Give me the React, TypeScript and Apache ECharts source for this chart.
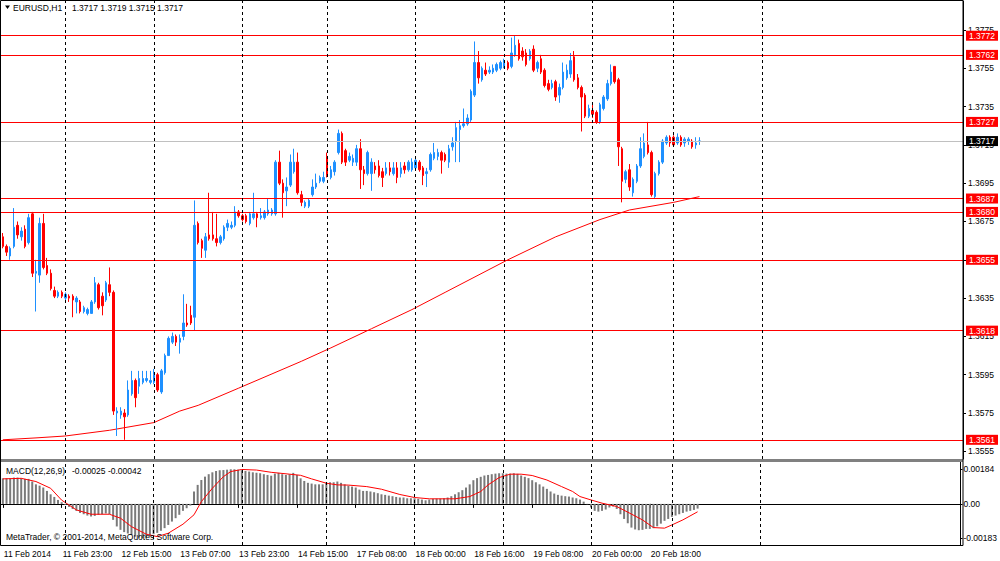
import React, { useEffect, useRef } from 'react';
import * as echarts from 'echarts';

const FONT = '"Liberation Sans", Arial, sans-serif';

// trading sessions (day label, first hour, last hour, missing hours, draw separator at start)
const sessions: [string, number, number, number[], boolean][] = [
  ['11 Feb', 7, 23, [], false],
  ['12 Feb', 0, 23, [], true],
  ['13 Feb', 0, 23, [], true],
  ['14 Feb', 0, 22, [], true],
  ['17 Feb', 0, 23, [], true],
  ['18 Feb', 0, 23, [], true],
  ['19 Feb', 0, 23, [], true],
  ['20 Feb', 0, 23, [16, 17], true],
  ['21 Feb', 0, 23, [], true],
  ['24 Feb', 0, 23, [], true],
  ['25 Feb', 0, 23, [], false],
  ['26 Feb', 0, 23, [], false],
];
const YEAR = '2014';
const SLOTS = 261;

// [open, close, low, high]
const ohlc: number[][] = [
  [1.3667,1.3662,1.3661,1.3669],[1.3662,1.3659,1.3657,1.3663],[1.3657,1.3661,1.3655,1.3662],[1.3662,1.3672,1.3661,1.3682],[1.3673,1.3668,1.3666,1.3675],
  [1.3667,1.3670,1.3665,1.3672],[1.3671,1.3662,1.3661,1.3673],[1.3664,1.3677,1.3663,1.3679],[1.3679,1.3648,1.3646,1.3680],[1.3648,1.3649,1.3628,1.3655],
  [1.3647,1.3674,1.3643,1.3677],[1.3674,1.3651,1.3650,1.3679],[1.3652,1.3648,1.3647,1.3656],[1.3648,1.3640,1.3639,1.3650],[1.3639,1.3636,1.3635,1.3641],
  [1.3636,1.3638,1.3635,1.3639],[1.3638,1.3636,1.3635,1.3639],[1.3635,1.3637,1.3634,1.3638],[1.3636,1.3635,1.3633,1.3637],[1.3636,1.3634,1.3625,1.3637],
  [1.3633,1.3635,1.3627,1.3636],[1.3633,1.3628,1.3627,1.3634],[1.3628,1.3630,1.3627,1.3631],[1.3627,1.3629,1.3626,1.3630],[1.3627,1.3633,1.3627,1.3634],
  [1.3633,1.3643,1.3632,1.3646],[1.3642,1.3630,1.3629,1.3643],[1.3636,1.3631,1.3626,1.3638],[1.3634,1.3643,1.3633,1.3644],[1.3642,1.3638,1.3636,1.3651],
  [1.3638,1.3576,1.3574,1.3639],[1.3575,1.3576,1.3563,1.3578],[1.3574,1.3576,1.3572,1.3578],[1.3575,1.3573,1.3561,1.3577],[1.3574,1.3587,1.3573,1.3592],
  [1.3585,1.3592,1.3584,1.3597],[1.3592,1.3583,1.3578,1.3593],[1.3589,1.3593,1.3585,1.3597],[1.3591,1.3593,1.3590,1.3597],[1.3592,1.3593,1.3591,1.3597],
  [1.3591,1.3592,1.3590,1.3597],[1.3591,1.3595,1.3590,1.3598],[1.3595,1.3587,1.3586,1.3596],[1.3586,1.3597,1.3585,1.3598],[1.3596,1.3605,1.3595,1.3606],
  [1.3605,1.3614,1.3605,1.3615],[1.3612,1.3615,1.3611,1.3617],[1.3615,1.3612,1.3610,1.3616],[1.3612,1.3614,1.3606,1.3616],[1.3615,1.3622,1.3613,1.3637],
  [1.3622,1.3621,1.3620,1.3632],[1.3626,1.3622,1.3621,1.3631],[1.3625,1.3673,1.3618,1.3686],[1.3674,1.3664,1.3663,1.3675],[1.3665,1.3661,1.3656,1.3666],
  [1.3660,1.3667,1.3656,1.3669],[1.3668,1.3666,1.3665,1.3690],[1.3668,1.3666,1.3665,1.3680],[1.3666,1.3664,1.3662,1.3679],[1.3664,1.3667,1.3663,1.3668],
  [1.3666,1.3672,1.3665,1.3673],[1.3672,1.3674,1.3670,1.3676],[1.3672,1.3673,1.3671,1.3675],[1.3673,1.3680,1.3672,1.3683],[1.3680,1.3678,1.3677,1.3681],
  [1.3678,1.3676,1.3675,1.3679],[1.3678,1.3675,1.3674,1.3679],[1.3674,1.3679,1.3673,1.3680],[1.3677,1.3679,1.3676,1.3690],[1.3679,1.3677,1.3672,1.3680],
  [1.3677,1.3678,1.3676,1.3682],[1.3677,1.3680,1.3676,1.3681],[1.3679,1.3681,1.3678,1.3687],[1.3679,1.3681,1.3678,1.3682],[1.3679,1.3706,1.3678,1.3707],
  [1.3706,1.3695,1.3694,1.3712],[1.3695,1.3690,1.3677,1.3697],[1.3691,1.3693,1.3683,1.3698],[1.3694,1.3706,1.3693,1.3710],[1.3701,1.3706,1.3700,1.3713],
  [1.3706,1.3690,1.3689,1.3711],[1.3689,1.3685,1.3683,1.3691],[1.3683,1.3685,1.3682,1.3686],[1.3683,1.3686,1.3682,1.3687],[1.3689,1.3693,1.3688,1.3697],
  [1.3693,1.3695,1.3692,1.3700],[1.3696,1.3698,1.3695,1.3699],[1.3696,1.3698,1.3695,1.3701],[1.3709,1.3699,1.3698,1.3711],[1.3698,1.3702,1.3697,1.3704],
  [1.3701,1.3706,1.3699,1.3707],[1.3711,1.3721,1.3710,1.3723],[1.3721,1.3706,1.3705,1.3722],[1.3712,1.3706,1.3704,1.3713],[1.3707,1.3709,1.3706,1.3711],
  [1.3706,1.3708,1.3704,1.3710],[1.3706,1.3713,1.3704,1.3715],[1.3713,1.3702,1.3692,1.3718],[1.3702,1.3700,1.3694,1.3704],[1.3700,1.3711,1.3699,1.3712],
  [1.3700,1.3706,1.3691,1.3708],[1.3704,1.3702,1.3700,1.3706],[1.3704,1.3699,1.3698,1.3707],[1.3701,1.3698,1.3693,1.3703],[1.3700,1.3703,1.3699,1.3706],
  [1.3703,1.3701,1.3699,1.3706],[1.3700,1.3703,1.3699,1.3706],[1.3703,1.3698,1.3695,1.3706],[1.3700,1.3703,1.3698,1.3706],[1.3704,1.3702,1.3700,1.3706],
  [1.3702,1.3706,1.3701,1.3707],[1.3702,1.3706,1.3701,1.3708],[1.3703,1.3707,1.3702,1.3709],[1.3706,1.3702,1.3701,1.3707],[1.3703,1.3699,1.3694,1.3704],
  [1.3700,1.3701,1.3693,1.3703],[1.3702,1.3710,1.3701,1.3711],[1.3708,1.3711,1.3707,1.3716],[1.3709,1.3711,1.3707,1.3713],[1.3711,1.3707,1.3700,1.3712],
  [1.3710,1.3707,1.3706,1.3711],[1.3706,1.3713,1.3703,1.3715],[1.3714,1.3716,1.3712,1.3719],[1.3717,1.3724,1.3706,1.3727],[1.3723,1.3725,1.3706,1.3728],
  [1.3725,1.3726,1.3724,1.3734],[1.3726,1.3729,1.3725,1.3731],[1.3728,1.3743,1.3727,1.3744],[1.3741,1.3758,1.3740,1.3769],[1.3758,1.3750,1.3747,1.3764],
  [1.3749,1.3755,1.3748,1.3756],[1.3754,1.3752,1.3751,1.3758],[1.3753,1.3754,1.3752,1.3756],[1.3753,1.3755,1.3752,1.3757],[1.3754,1.3757,1.3753,1.3758],
  [1.3755,1.3758,1.3754,1.3759],[1.3756,1.3758,1.3755,1.3760],[1.3758,1.3755,1.3754,1.3759],[1.3756,1.3763,1.3755,1.3771],[1.3762,1.3767,1.3761,1.3772],
  [1.3768,1.3760,1.3759,1.3770],[1.3764,1.3761,1.3759,1.3766],[1.3763,1.3757,1.3756,1.3765],[1.3760,1.3764,1.3759,1.3765],[1.3765,1.3754,1.3753,1.3767],
  [1.3755,1.3758,1.3753,1.3759],[1.3760,1.3753,1.3752,1.3762],[1.3754,1.3746,1.3745,1.3755],[1.3747,1.3744,1.3743,1.3749],[1.3745,1.3747,1.3744,1.3749],
  [1.3748,1.3740,1.3738,1.3749],[1.3741,1.3745,1.3737,1.3747],[1.3745,1.3753,1.3744,1.3758],[1.3750,1.3754,1.3749,1.3757],[1.3752,1.3759,1.3750,1.3763],
  [1.3761,1.3749,1.3748,1.3764],[1.3750,1.3745,1.3744,1.3752],[1.3745,1.3740,1.3722,1.3746],[1.3741,1.3730,1.3729,1.3742],[1.3730,1.3734,1.3729,1.3736],
  [1.3733,1.3731,1.3729,1.3736],[1.3732,1.3727,1.3726,1.3733],[1.3727,1.3736,1.3726,1.3737],[1.3734,1.3740,1.3733,1.3741],[1.3739,1.3747,1.3738,1.3749],
  [1.3747,1.3753,1.3746,1.3757],[1.3756,1.3748,1.3747,1.3756],[1.3749,1.3714,1.3704,1.3750],[1.3713,1.3696,1.3685,1.3714],[1.3697,1.3701,1.3695,1.3702],
  [1.3702,1.3693,1.3691,1.3705],[1.3690,1.3697,1.3688,1.3698],[1.3696,1.3704,1.3695,1.3705],[1.3704,1.3713,1.3703,1.3719],[1.3709,1.3716,1.3708,1.3721],
  [1.3715,1.3711,1.3710,1.3727],[1.3711,1.3689,1.3688,1.3712],[1.3688,1.3700,1.3687,1.3701],[1.3700,1.3706,1.3699,1.3707],[1.3706,1.3717,1.3705,1.3718],
  [1.3716,1.3719,1.3715,1.3720],[1.3719,1.3716,1.3714,1.3720],[1.3719,1.3715,1.3714,1.3720],[1.3716,1.3719,1.3715,1.3721],[1.3719,1.3715,1.3714,1.3720],
  [1.3716,1.3718,1.3714,1.3719],[1.3717,1.3718,1.3715,1.3719],[1.3717,1.3714,1.3713,1.3718],[1.3715,1.3716,1.3713,1.3719],[1.3717,1.3717,1.3715,1.3719],
];

// moving average read at sampled bars [bar index, price]
const maPoints: [number, number][] = [
  [0, 1.3561], [9, 1.3562], [17, 1.3563], [29, 1.3566], [41, 1.3570], [48, 1.3576], [53, 1.3579],
  [64, 1.3588], [81, 1.3602], [89, 1.3609], [100, 1.3619], [111, 1.3629], [120, 1.3638], [130, 1.3648],
  [137, 1.3655], [150, 1.3667], [162, 1.3676], [170, 1.3681], [182, 1.3685], [189, 1.3688],
];

// MACD main (histogram), one per bar
const macdHist: number[] = [
  0.00136,0.00136,0.00136,0.00140,0.00140,0.00136,0.00133,0.00133,0.00119,0.00104,
  0.00097,0.00087,0.00069,0.00051,0.00037,0.00021,0.00009,-0.00005,-0.00016,-0.00027,
  -0.00037,-0.00048,-0.00055,-0.00062,-0.00067,-0.00064,-0.00058,-0.00055,-0.00051,-0.00055,
  -0.00085,-0.00120,-0.00138,-0.00150,-0.00158,-0.00165,-0.00174,-0.00179,-0.00183,-0.00179,
  -0.00172,-0.00161,-0.00154,-0.00143,-0.00129,-0.00112,-0.00094,-0.00076,-0.00058,-0.00037,
  -0.00023,-0.00009,0.00066,0.00101,0.00127,0.00145,0.00158,0.00168,0.00175,0.00179,
  0.00180,0.00182,0.00184,0.00184,0.00182,0.00179,0.00175,0.00172,0.00168,0.00165,
  0.00163,0.00158,0.00154,0.00150,0.00161,0.00165,0.00158,0.00154,0.00158,0.00165,
  0.00154,0.00136,0.00122,0.00112,0.00108,0.00104,0.00104,0.00104,0.00112,0.00115,
  0.00115,0.00119,0.00112,0.00104,0.00097,0.00092,0.00087,0.00076,0.00069,0.00069,
  0.00066,0.00062,0.00057,0.00051,0.00048,0.00044,0.00041,0.00037,0.00034,0.00034,
  0.00030,0.00030,0.00030,0.00027,0.00023,0.00019,0.00023,0.00027,0.00028,0.00028,
  0.00030,0.00034,0.00041,0.00051,0.00062,0.00073,0.00087,0.00104,0.00126,0.00137,
  0.00144,0.00151,0.00154,0.00158,0.00161,0.00163,0.00163,0.00161,0.00161,0.00163,
  0.00160,0.00151,0.00144,0.00137,0.00126,0.00115,0.00104,0.00092,0.00080,0.00066,
  0.00055,0.00048,0.00044,0.00041,0.00039,0.00034,0.00030,0.00023,0.00012,-0.00002,
  -0.00019,-0.00037,-0.00041,-0.00037,-0.00030,-0.00019,-0.00014,-0.00027,-0.00055,-0.00080,
  -0.00103,-0.00126,-0.00136,-0.00140,-0.00138,-0.00133,-0.00133,-0.00129,-0.00119,-0.00105,
  -0.00090,-0.00080,-0.00069,-0.00062,-0.00055,-0.00048,-0.00041,-0.00037,-0.00032,-0.00025,
];

// MACD signal read at sampled bars [bar index, value]
const signalPoints: [number, number][] = [
  [0, 0.00133], [5, 0.00136], [9, 0.00119], [13, 0.00083], [16, 0.00020], [20, -0.00032], [24, -0.00055],
  [29, -0.00055], [32, -0.00076], [35, -0.00121], [39, -0.00161], [42, -0.00174], [45, -0.00156],
  [49, -0.00108], [52, -0.00058], [54, 0.00012], [57, 0.00083], [60, 0.00145], [62, 0.00172],
  [65, 0.00183], [69, 0.00180], [73, 0.00168], [78, 0.00158], [81, 0.00152], [84, 0.00133],
  [88, 0.00110], [91, 0.00101], [94, 0.00100], [99, 0.00092], [103, 0.00078], [108, 0.00050],
  [112, 0.00034], [116, 0.00027], [123, 0.00027], [127, 0.00039], [130, 0.00066], [132, 0.00101],
  [135, 0.00140], [138, 0.00158], [141, 0.00158], [144, 0.00151], [148, 0.00127], [152, 0.00092],
  [155, 0.00066], [157, 0.00039], [160, 0.00021], [163, 0.00004], [167, -0.00014], [170, -0.00044],
  [174, -0.00085], [177, -0.00126], [180, -0.00129], [182, -0.00112], [185, -0.00085], [189, -0.00042],
];

const levels: number[] = [1.3772, 1.3762, 1.3727, 1.3687, 1.3680, 1.3655, 1.3618, 1.3561];
const bidPrice = 1.3717;
const priceTicks: number[] = [1.3555, 1.3575, 1.3595, 1.3615, 1.3635, 1.3655, 1.3675, 1.3695, 1.3715, 1.3735, 1.3755, 1.3775];
const macdTicks: number[] = [-0.00183, 0, 0.00184];

function pad(h: number) {
  return (h < 10 ? '0' : '') + h + ':00';
}

function buildCategories() {
  const cats: string[] = [];
  const seps: number[] = [];
  sessions.forEach(([day, first, last, skip, sep]) => {
    if (sep) seps.push(cats.length);
    for (let h = first; h <= last; h++) {
      if (skip.indexOf(h) >= 0) continue;
      cats.push(day + ' ' + pad(h));
    }
  });
  return { cats: cats.slice(0, SLOTS), seps: seps.filter((s) => s < SLOTS) };
}

export default function App() {
  const ref = useRef<HTMLDivElement>(null);

  useEffect(() => {
    if (!ref.current) return;
    const chart = echarts.init(ref.current, null, { renderer: 'svg' });
    const { cats, seps } = buildCategories();
    const n = ohlc.length;
    const labelEvery = (idx: number) => idx % 16 === 0 && idx < n;
    const last = ohlc[n - 1];
    const headerValues = [last[0], last[3], last[2], last[1]].map((v) => v.toFixed(4)).join(' ');
    const macdValues =
      macdHist[n - 1].toFixed(5) + ' ' + signalPoints[signalPoints.length - 1][1].toFixed(5);
    const sepLines = seps.map((i) => ({ xAxis: i }));
    const sepStyle = { color: '#000', type: [3, 3], width: 1 };
    const tagLabel = (bg: string) => ({
      show: true,
      position: 'end',
      distance: 3,
      formatter: (p: any) => Number(p.value).toFixed(4),
      color: '#fff',
      backgroundColor: bg,
      padding: [1, 3, 0, 3],
      fontSize: 8.5,
      fontFamily: FONT,
    });

    const option: any = {
      animation: false,
      backgroundColor: '#fff',
      textStyle: { fontFamily: FONT },
      grid: [
        { left: 1, right: 37, top: 1, height: 458 },
        { left: 1, right: 37, top: 462, height: 83 },
      ],
      xAxis: [
        {
          type: 'category', gridIndex: 0, data: cats, boundaryGap: true,
          axisLine: { show: false }, axisTick: { show: false }, axisLabel: { show: false }, splitLine: { show: false },
        },
        {
          type: 'category', gridIndex: 1, data: cats, boundaryGap: true,
          axisLine: { show: true, lineStyle: { color: '#000', width: 1 } },
          axisTick: { show: true, interval: labelEvery, alignWithLabel: true, length: 4, lineStyle: { color: '#000' } },
          axisLabel: {
            interval: labelEvery,
            formatter: (v: string, idx: number) => (idx === 0 ? v.split(' ').slice(0, 2).join(' ') + ' ' + YEAR : v),
            align: 'left', color: '#000', fontSize: 8.5, fontFamily: FONT, margin: 4, padding: [0, 0, 0, 1],
          },
          splitLine: { show: false },
        },
      ],
      yAxis: [
        {
          type: 'value', gridIndex: 0, position: 'right', min: 1.355098, max: 1.379014, scale: true,
          splitLine: { show: false },
          axisLine: { show: true, lineStyle: { color: '#000', width: 1 } },
          axisTick: { show: true, length: 3, customValues: priceTicks, lineStyle: { color: '#000' } },
          axisLabel: {
            customValues: priceTicks, formatter: (v: number) => v.toFixed(4),
            color: '#000', fontSize: 8.5, fontFamily: FONT, margin: 5,
          },
        },
        {
          type: 'value', gridIndex: 1, position: 'right', min: -0.002186, max: 0.002228,
          splitLine: { show: false },
          axisLine: { show: true, lineStyle: { color: '#000', width: 1 } },
          axisTick: { show: true, length: 2, customValues: macdTicks, lineStyle: { color: '#000' } },
          axisLabel: {
            customValues: macdTicks, formatter: (v: number) => (v === 0 ? '0.00' : v.toFixed(5)),
            color: '#000', fontSize: 8.5, fontFamily: FONT, margin: 3,
          },
        },
      ],
      series: [
        {
          type: 'candlestick', xAxisIndex: 0, yAxisIndex: 0, data: ohlc, barWidth: 2,
          itemStyle: {
            color: '#1E90FF', color0: '#FF0000', borderColor: '#1E90FF', borderColor0: '#FF0000',
            borderColorDoji: '#1E90FF', borderWidth: 1,
          },
          markLine: {
            silent: true, symbol: ['none', 'none'], animation: false, precision: 4,
            data: [
              ...levels.map((v) => ({ yAxis: v, lineStyle: { color: '#FF0000', width: 1, type: 'solid' }, label: tagLabel('#FF0000') })),
              { yAxis: bidPrice, lineStyle: { color: '#C0C0C0', width: 1, type: 'solid' }, label: tagLabel('#000000') },
            ],
          },
          z: 3,
        },
        {
          type: 'line', xAxisIndex: 0, yAxisIndex: 0, showSymbol: false, symbol: 'none',
          data: maPoints.map(([i, v]) => [cats[i], v]),
          lineStyle: { color: '#FF0000', width: 1 },
          markLine: { silent: true, symbol: ['none', 'none'], animation: false, label: { show: false }, lineStyle: sepStyle, data: sepLines },
          z: 2,
        },
        {
          type: 'bar', xAxisIndex: 1, yAxisIndex: 1, data: macdHist, barWidth: 2,
          itemStyle: { color: '#7a7a7a' },
          markLine: { silent: true, symbol: ['none', 'none'], animation: false, label: { show: false }, lineStyle: sepStyle, data: sepLines },
        },
        {
          type: 'line', xAxisIndex: 1, yAxisIndex: 1, showSymbol: false, symbol: 'none',
          data: signalPoints.map(([i, v]) => [cats[i], v]),
          lineStyle: { color: '#FF0000', width: 1 },
          z: 4,
        },
      ],
      graphic: [
        { type: 'rect', silent: true, z: 50, shape: { x: 0, y: 459, width: 963, height: 3 }, style: { fill: '#808080' } },
        { type: 'rect', silent: true, z: 50, shape: { x: 0.5, y: 0.5, width: 962.5, height: 545 }, style: { fill: 'none', stroke: '#000', lineWidth: 1 } },
        { type: 'polygon', silent: true, z: 60, shape: { points: [[5, 5.5], [10, 5.5], [7.5, 9]] }, style: { fill: '#000' } },
        { type: 'text', silent: true, z: 60, x: 13, y: 3, style: { text: 'EURUSD,H1', fill: '#000', font: '8.5px ' + FONT, verticalAlign: 'top', textVerticalAlign: 'top' } },
        { type: 'text', silent: true, z: 60, x: 72, y: 3, style: { text: headerValues, fill: '#000', font: '8.5px ' + FONT, verticalAlign: 'top', textVerticalAlign: 'top' } },
        { type: 'text', silent: true, z: 60, x: 6, y: 466, style: { text: 'MACD(12,26,9)', fill: '#000', font: '8.5px ' + FONT, verticalAlign: 'top', textVerticalAlign: 'top' } },
        { type: 'text', silent: true, z: 60, x: 72, y: 466, style: { text: macdValues, fill: '#000', font: '8.5px ' + FONT, verticalAlign: 'top', textVerticalAlign: 'top' } },
        { type: 'text', silent: true, z: 60, x: 6, y: 532, style: { text: 'MetaTrader, \u00A9 2001-2014, MetaQuotes Software Corp.', fill: '#000', font: '8.5px ' + FONT, verticalAlign: 'top', textVerticalAlign: 'top' } },
      ],
    };
    chart.setOption(option);
    return () => chart.dispose();
  }, []);

  return (
    <div
      ref={ref}
      style={{ position: 'fixed', left: 0, top: 0, width: 1000, height: 561, background: '#fff' }}
    />
  );
}
